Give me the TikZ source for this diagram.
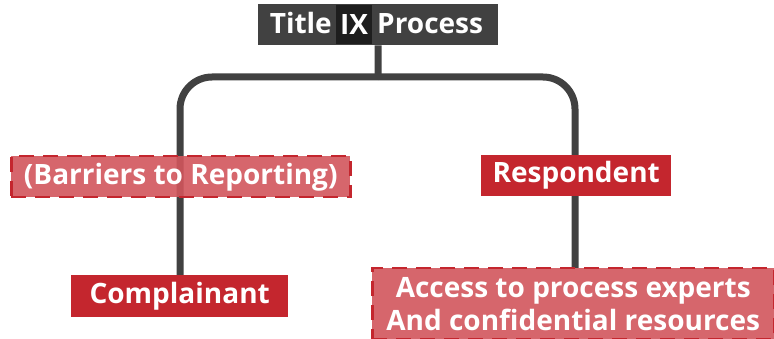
\documentclass[tikz,border=0pt]{standalone}
\usepackage{fontspec}
\setmainfont{Open Sans}
\definecolor{titlegray}{HTML}{414141}
\definecolor{ixgray}{HTML}{1E1E1E}
\definecolor{solidred}{HTML}{C4262E}
\definecolor{lightred}{HTML}{D2555C}
\tikzset{
  conn/.style={draw=titlegray, line width=7pt, rounded corners=32pt},
  boxfont/.style={font=\bfseries\fontsize{28}{33}\selectfont},
  solidbox/.style={fill=solidred, text=white, boxfont, inner sep=0pt, anchor=north west},
  dashbox/.style={fill=lightred, fill opacity=0.9, text opacity=1, draw=solidred, draw opacity=1, dash pattern=on 15pt off 9pt, line width=2.5pt, text=white, boxfont, inner sep=0pt, anchor=north west, align=center},
}
\begin{document}
\begin{tikzpicture}[x=1pt,y=1pt]
\useasboundingbox (0,0) rectangle (774,-339);
\node[fill=titlegray, minimum width=240pt, minimum height=41pt, inner sep=0pt, anchor=north west] (title) at (258,-4) {};
\node[fill=ixgray, minimum width=36pt, minimum height=39pt, inner sep=0pt, anchor=north west] (ix) at (336,-5) {};
\node[text=white, boxfont, anchor=base east, inner sep=0pt] (t1) at (332,-34) {Title};
\node[text=white, boxfont, anchor=base, inner sep=0pt] (t2) at (354,-35) {IX};
\node[text=white, boxfont, anchor=base west, inner sep=0pt] (t3) at (377,-34) {Process};
\coordinate (split) at (378,-77);
\coordinate (cl) at (180,-275);
\coordinate (ar) at (575,-268);
\draw[draw=titlegray, line width=7pt] (title.south) -- (split);
\draw[conn] (split) -| (cl);
\draw[conn] (split) -| (ar);
\node[solidbox, minimum width=217pt, minimum height=42pt] (compl) at (71,-275) {Complainant};
\node[solidbox, minimum width=190pt, minimum height=41pt] (resp) at (481,-155) {Respondent};
\node[dashbox, minimum width=339pt, minimum height=41pt] (barr) at (10,-155) {(Barriers to Reporting)};
\node[dashbox, minimum width=402pt, minimum height=71pt] (acc) at (371,-267) {Access to process experts\\And confidential resources};
\end{tikzpicture}
\end{document}
